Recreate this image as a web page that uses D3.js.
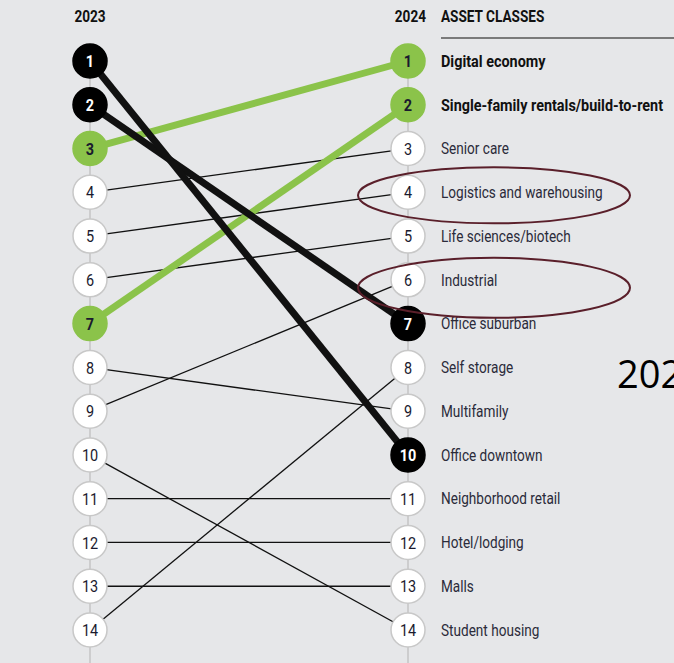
<!DOCTYPE html>
<html>
<head>
<meta charset="utf-8">
<script src="https://cdn.jsdelivr.net/npm/d3@7"></script>
<style>
  body { margin: 0; background: #e6e7e9; overflow: hidden; }
  text { font-family: "Roboto", "Liberation Sans", sans-serif; }
</style>
</head>
<body>
<div id="chart"></div>
<script>
const width = 674, height = 663;

// asset classes in 2024 order, with 2023 rank
const assetClasses = ["Digital economy", "Single-family rentals/build-to-rent", "Senior care",
  "Logistics and warehousing", "Life sciences/biotech", "Industrial", "Office suburban",
  "Self storage", "Multifamily", "Office downtown", "Neighborhood retail", "Hotel/lodging",
  "Malls", "Student housing"];
const rank2024 = [1, 2, 3, 4, 5, 6, 7, 8, 9, 10, 11, 12, 13, 14];
const rank2023 = [3, 7, 4, 5, 6, 9, 2, 14, 8, 1, 11, 12, 13, 10];
const highlight = ["green", "green", "none", "none", "none", "none", "black",
  "none", "none", "black", "none", "none", "none", "none"];
const circled = ["Logistics and warehousing", "Industrial"];

const rows = assetClasses.map((name, i) => ({
  name: name, r23: rank2023[i], r24: rank2024[i], hl: highlight[i]
}));

const colors = { green: "#8bc34a", black: "#000", none: "#fff" };

const x23 = 90, x24 = 408;
const y = d3.scaleLinear().domain([1, 14]).range([61, 630]);
const rad = 17;

const svg = d3.select("#chart").append("svg")
    .attr("width", width)
    .attr("height", height);

svg.append("rect").attr("width", width).attr("height", height).attr("fill", "#e6e7e9");

// narrow text helper (the original uses a condensed face)
function squish(sel, xf, yf, sx) {
  return sel.attr("transform", d => "translate(" + xf(d) + "," + yf(d) + ") scale(" + sx + ",1)");
}

// vertical spines
[x23, x24].forEach(function (xx) {
  svg.append("line")
    .attr("x1", xx).attr("x2", xx)
    .attr("y1", y(1)).attr("y2", height)
    .attr("stroke", "#c4c4c4").attr("stroke-width", 1.5);
});

// headers
const headers = [
  { t: "2023", x: x23, anchor: "middle" },
  { t: "2024", x: 426, anchor: "end" },
  { t: "ASSET CLASSES", x: 441, anchor: "start" }
];
squish(svg.append("g").selectAll("text").data(headers).enter().append("text"),
    d => d.x, d => 22, 0.85)
  .attr("text-anchor", d => d.anchor)
  .attr("font-size", 16).attr("font-weight", "bold").attr("fill", "#111")
  .text(d => d.t);
svg.append("line").attr("x1", 441).attr("x2", width).attr("y1", 38).attr("y2", 38)
  .attr("stroke", "#7a7a7a").attr("stroke-width", 2);

// connecting lines: thin first, thick on top
const ordered = rows.slice().sort((a, b) => (a.hl === "none" ? 0 : 1) - (b.hl === "none" ? 0 : 1));
svg.append("g").selectAll("line")
  .data(ordered).enter()
  .append("line")
  .attr("x1", x23).attr("y1", d => y(d.r23))
  .attr("x2", x24).attr("y2", d => y(d.r24))
  .attr("stroke", d => d.hl === "green" ? colors.green : "#111")
  .attr("stroke-width", d => d.hl === "none" ? 1.3 : 7);

// circles on both sides
function drawColumn(xx, key) {
  const g = svg.append("g").selectAll("g")
    .data(rows).enter()
    .append("g")
    .attr("transform", d => "translate(" + xx + "," + y(d[key]) + ")");
  g.append("circle")
    .attr("r", rad)
    .attr("fill", d => colors[d.hl])
    .attr("stroke", d => d.hl === "none" ? "#c8c8c8" : colors[d.hl])
    .attr("stroke-width", 1.5);
  g.append("text")
    .attr("transform", "scale(0.85,1)")
    .attr("text-anchor", "middle")
    .attr("dy", "0.36em")
    .attr("font-size", 17)
    .attr("font-weight", d => d.hl === "none" ? "normal" : "bold")
    .attr("fill", d => d.hl === "black" ? "#fff" : "#1a1a2e")
    .text(d => d[key]);
}
drawColumn(x23, "r23");
drawColumn(x24, "r24");

// labels
squish(svg.append("g").selectAll("text").data(rows).enter().append("text"),
    d => 441, d => y(d.r24), 1)
  .each(function (d) {
    d3.select(this).attr("transform", "translate(441," + y(d.r24) + ") scale(" + (d.hl === "green" ? 0.9 : 0.85) + ",1)");
  })
  .attr("dy", "0.36em")
  .attr("font-size", 16)
  .attr("font-weight", d => d.hl === "green" ? "bold" : "normal")
  .attr("fill", d => d.hl === "green" ? "#111" : "#2b2b3a")
  .text(d => d.name);

// hand-drawn ellipses
svg.append("g").selectAll("ellipse")
  .data(rows.filter(d => circled.includes(d.name))).enter()
  .append("ellipse")
  .attr("cx", 494)
  .attr("cy", d => y(d.r24) + 3 + (d.r24 === 6 ? 5 : 0))
  .attr("rx", 136)
  .attr("ry", d => d.r24 === 6 ? 30 : 28)
  .attr("fill", "none")
  .attr("stroke", "#5a1f2a")
  .attr("stroke-width", 2);

// stray text at right edge (cut off in the original)
svg.append("text").attr("x", 617).attr("y", 388)
  .style("font-family", "'Open Sans', 'DejaVu Sans', sans-serif")
  .attr("font-size", 38).attr("fill", "#000").text("2024");
</script>
</body>
</html>
